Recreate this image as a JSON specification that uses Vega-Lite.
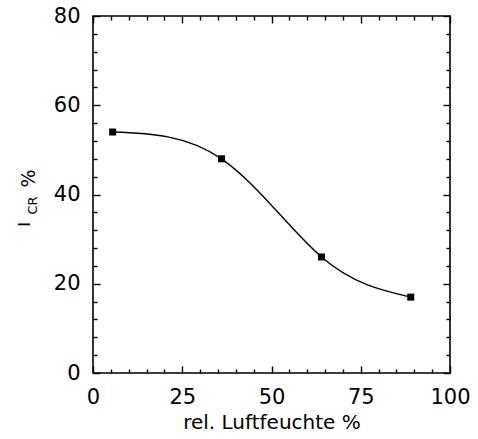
{
  "$schema": "https://vega.github.io/schema/vega-lite/v6.json",
  "width": 357,
  "height": 357,
  "autosize": {"type": "none"},
  "padding": {"left": 93, "top": 16, "right": 28, "bottom": 66},
  "background": "white",
  "config": {
    "view": {"stroke": "black", "strokeWidth": 1.6},
    "font": "DejaVu Sans",
    "axis": {"grid": false, "domain": false, "tickColor": "black", "tickWidth": 1.4, "labelColor": "black", "titleColor": "black", "labelFont": "DejaVu Sans", "titleFont": "DejaVu Sans", "titleFontWeight": "normal", "labelFontWeight": "normal"}
  },
  "data": {"values": [
    {"rh": 5.5, "icr": 54},
    {"rh": 36, "icr": 48},
    {"rh": 64, "icr": 26},
    {"rh": 89, "icr": 17}
  ]},
  "resolve": {"axis": {"x": "independent", "y": "independent"}},
  "layer": [
    {
      "mark": {"type": "line", "interpolate": "natural", "color": "black", "strokeWidth": 1.4},
      "encoding": {
        "x": {"field": "rh", "type": "quantitative", "scale": {"domain": [0, 100], "nice": false},
          "axis": {"orient": "bottom", "values": [0, 25, 50, 75, 100], "tickSize": -7, "labelFontSize": 21, "labelPadding": 20, "labelFlush": false,
            "title": "rel. Luftfeuchte %", "titleFontSize": 20, "titleBaseline": "alphabetic", "titleY": 55}},
        "y": {"field": "icr", "type": "quantitative", "scale": {"domain": [0, 80], "nice": false},
          "axis": {"orient": "left", "values": [0, 20, 40, 60, 80], "tickSize": -7, "labelFontSize": 21, "labelPadding": 20, "labelFlush": false,
            "title": "I", "titleFontSize": 16, "titleBaseline": "alphabetic", "titleAngle": -90, "titleAlign": "center", "titleX": -64, "titleY": 208}}
      }
    },
    {
      "mark": {"type": "point", "shape": "square", "filled": true, "color": "black", "size": 49, "opacity": 1},
      "encoding": {
        "x": {"field": "rh", "type": "quantitative", "scale": {"domain": [0, 100], "nice": false},
          "axis": {"orient": "bottom", "values": [5, 10, 15, 20, 30, 35, 40, 45, 55, 60, 65, 70, 80, 85, 90, 95], "tickSize": -4, "labels": false, "title": null}},
        "y": {"field": "icr", "type": "quantitative", "scale": {"domain": [0, 80], "nice": false},
          "axis": {"orient": "left", "values": [4, 8, 12, 16, 24, 28, 32, 36, 44, 48, 52, 56, 64, 68, 72, 76], "tickSize": -4, "labels": false,
            "title": "CR", "titleFontSize": 13, "titleBaseline": "alphabetic", "titleAngle": -90, "titleAlign": "center", "titleX": -57, "titleY": 189}}
      }
    },
    {
      "mark": {"type": "point", "opacity": 0},
      "encoding": {
        "x": {"field": "rh", "type": "quantitative", "scale": {"domain": [0, 100], "nice": false},
          "axis": {"orient": "top", "values": [0, 25, 50, 75, 100], "tickSize": -7, "labels": false, "title": null}},
        "y": {"field": "icr", "type": "quantitative", "scale": {"domain": [0, 80], "nice": false},
          "axis": {"orient": "right", "values": [0, 20, 40, 60, 80], "tickSize": -7, "labels": false, "title": null}}
      }
    },
    {
      "mark": {"type": "point", "opacity": 0},
      "encoding": {
        "x": {"field": "rh", "type": "quantitative", "scale": {"domain": [0, 100], "nice": false},
          "axis": {"orient": "top", "values": [5, 10, 15, 20, 30, 35, 40, 45, 55, 60, 65, 70, 80, 85, 90, 95], "tickSize": -4, "labels": false, "title": null}},
        "y": {"field": "icr", "type": "quantitative", "scale": {"domain": [0, 80], "nice": false},
          "axis": {"orient": "right", "values": [4, 8, 12, 16, 24, 28, 32, 36, 44, 48, 52, 56, 64, 68, 72, 76], "tickSize": -4, "labels": false, "title": null}}
      }
    },
    {
      "mark": {"type": "point", "opacity": 0},
      "encoding": {
        "y": {"field": "icr", "type": "quantitative", "scale": {"domain": [0, 80], "nice": false},
          "axis": {"orient": "left", "ticks": false, "labels": false, "domain": false,
            "title": "%", "titleFontSize": 19, "titleBaseline": "alphabetic", "titleAngle": -90, "titleAlign": "center", "titleX": -59, "titleY": 162}}
      }
    }
  ]
}
